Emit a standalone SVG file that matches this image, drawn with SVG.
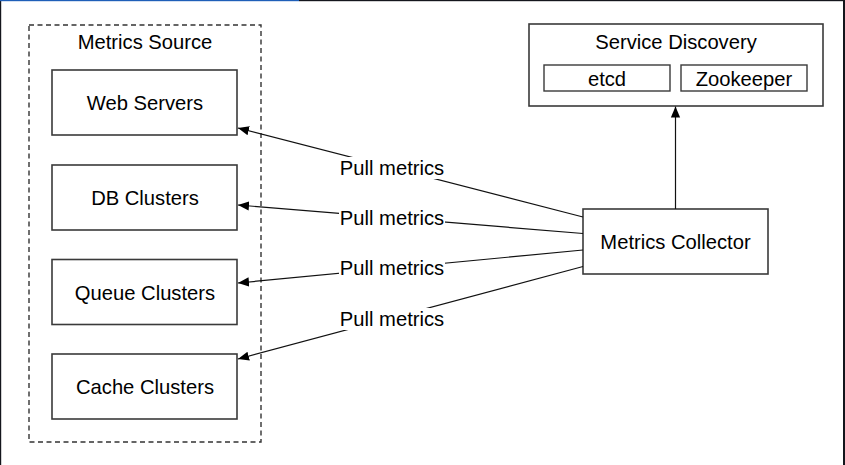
<svg xmlns="http://www.w3.org/2000/svg" width="845" height="465" viewBox="0 0 845 465">
<defs>
<style>
text{font-family:"Liberation Sans",Arial,sans-serif;font-size:20.2px;fill:#000;text-anchor:middle}
.box{fill:#fff;stroke:#3a3a3a;stroke-width:1.6}
.sub{fill:#fff;stroke:#3a3a3a;stroke-width:1.4}
.dash{fill:none;stroke:#333;stroke-width:1.4;stroke-dasharray:5 3.5}
.conn{fill:none;stroke:#111;stroke-width:1.2}
.lbl{fill:#fff;stroke:none}
</style>
<marker id="arr" viewBox="0 0 10 10" refX="10" refY="5" markerWidth="11" markerHeight="11" markerUnits="userSpaceOnUse" orient="auto">
<path d="M0,0.8 L10,5 L0,9.2 z" fill="#000"/>
</marker>
</defs>
<rect x="0" y="0" width="845" height="465" fill="#fff"/>
<g id="frame">
<rect x="0" y="0" width="1.2" height="465" fill="#14161c"/>
<rect x="843" y="0" width="2" height="465" fill="#14161c"/>
<rect x="0" y="0" width="299" height="1.2" fill="#1f5fb8"/>
<rect x="299" y="0" width="546" height="1.2" fill="#14161c"/>
</g>
<g id="metrics-source">
<rect class="dash" x="29" y="25" width="232" height="417"/>
<text x="145" y="49">Metrics Source</text>
</g>
<g id="web-servers">
<rect class="box" x="52" y="70" width="185" height="65"/>
<text x="145" y="110">Web Servers</text>
</g>
<g id="db-clusters">
<rect class="box" x="52" y="165" width="185" height="65"/>
<text x="145" y="205">DB Clusters</text>
</g>
<g id="queue-clusters">
<rect class="box" x="52" y="259.5" width="185" height="65"/>
<text x="145" y="299.5">Queue Clusters</text>
</g>
<g id="cache-clusters">
<rect class="box" x="52" y="354" width="185" height="65"/>
<text x="145" y="394">Cache Clusters</text>
</g>
<g id="service-discovery">
<rect class="box" x="529" y="24" width="294" height="82"/>
<text x="676" y="48.5">Service Discovery</text>
<rect class="sub" x="544" y="65" width="126" height="26"/>
<text x="607" y="85.5">etcd</text>
<rect class="sub" x="681" y="65" width="126" height="26"/>
<text x="744" y="85.5">Zookeeper</text>
</g>
<g id="metrics-collector">
<rect class="box" x="583" y="209" width="185" height="65"/>
<text x="675.5" y="248.5">Metrics Collector</text>
</g>
<g id="connectors">
<line class="conn" x1="675.5" y1="209" x2="675.5" y2="106.5" marker-end="url(#arr)"/>
<line class="conn" x1="583" y1="217" x2="238" y2="128" marker-end="url(#arr)"/>
<line class="conn" x1="583" y1="233.5" x2="238" y2="205" marker-end="url(#arr)"/>
<line class="conn" x1="583" y1="250" x2="238" y2="283" marker-end="url(#arr)"/>
<line class="conn" x1="583" y1="266.5" x2="238" y2="359" marker-end="url(#arr)"/>
<rect class="lbl" x="339" y="157" width="106" height="22"/>
<text x="392" y="175">Pull metrics</text>
<rect class="lbl" x="339" y="207" width="106" height="22"/>
<text x="392" y="225">Pull metrics</text>
<rect class="lbl" x="339" y="257" width="106" height="22"/>
<text x="392" y="275">Pull metrics</text>
<rect class="lbl" x="339" y="308" width="106" height="22"/>
<text x="392" y="326">Pull metrics</text>
</g>
</svg>
